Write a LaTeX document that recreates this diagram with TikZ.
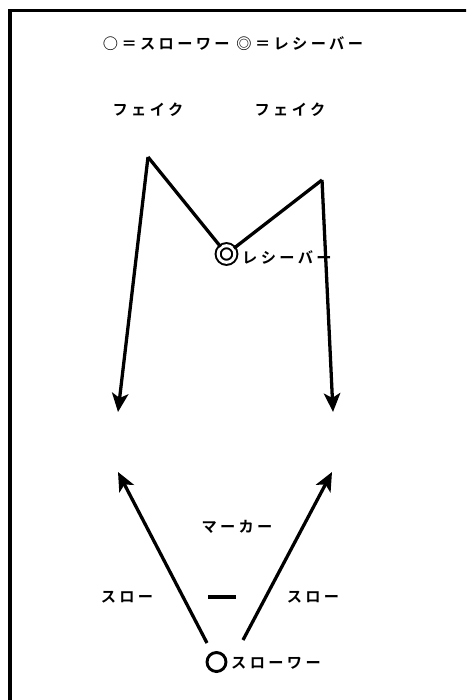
\documentclass[tikz,border=0pt]{standalone}
\usepackage{fontspec}
\newfontfamily\jpfont{Noto Sans CJK JP}[LetterSpace=22, BoldFont={Noto Sans CJK JP Bold}]
\usetikzlibrary{arrows.meta,positioning}

\begin{document}
\begin{tikzpicture}[
x=0.03cm, y=-0.03cm,
lbl/.style={inner sep=0pt, font=\jpfont\bfseries\fontsize{13pt}{15pt}\selectfont},
arrow/.style={-{Stealth[length=16pt, width=14pt, inset=4pt]}, line width=2.8pt},
plain/.style={line width=2.8pt},
receiver/.style={circle, draw, double, line width=1.7pt, double distance=2.6pt, minimum size=0.5cm, inner sep=0pt},
thrower/.style={circle, draw, line width=2.5pt, minimum size=0.57cm, inner sep=0pt}
]
\useasboundingbox (0,0) rectangle (466,700);
\clip (0,0) rectangle (466,700);
\fill[white] (0,0) rectangle (466,700);
\draw[line width=2.6pt] (10,10.5) rectangle (490,720);

\node[lbl] (legend) at (233,44) {○＝スローワー ◎＝レシーバー};
\node[lbl] (fakeLtxt) at (148,110) {フェイク};
\node[lbl] (fakeRtxt) at (290,110) {フェイク};

\node[receiver] (recv) at (226.5,254) {};
\node[lbl, anchor=west] (recvtxt) at (242,257) {レシーバー};
\coordinate (fakeL) at (148,157);
\coordinate (fakeR) at (322,180);
\coordinate (endL) at (118,412);
\coordinate (endR) at (333,412);

\node[thrower] (thr) at (216.5,662) {};
\node[lbl, anchor=west] (thrtxt) at (231,663) {スローワー};
\coordinate (startL) at (207,643);
\coordinate (startR) at (243,640);
\coordinate (passL) at (118,472);
\coordinate (passR) at (332,472);

\node[lbl] (markertxt) at (237,527) {マーカー};
\node[fill, minimum width=0.84cm, minimum height=2.8pt, inner sep=0pt] (marker) at (222,597) {};
\node[lbl] (throwLtxt) at (127,597) {スロー};
\node[lbl] (throwRtxt) at (313,597) {スロー};

\draw[plain] (recv) -- (fakeL);
\draw[arrow] (fakeL) -- (endL);
\draw[plain] (recv) -- (fakeR);
\draw[arrow] (fakeR) -- (endR);
\draw[arrow] (startL) -- (passL);
\draw[arrow] (startR) -- (passR);
\end{tikzpicture}
\end{document}
